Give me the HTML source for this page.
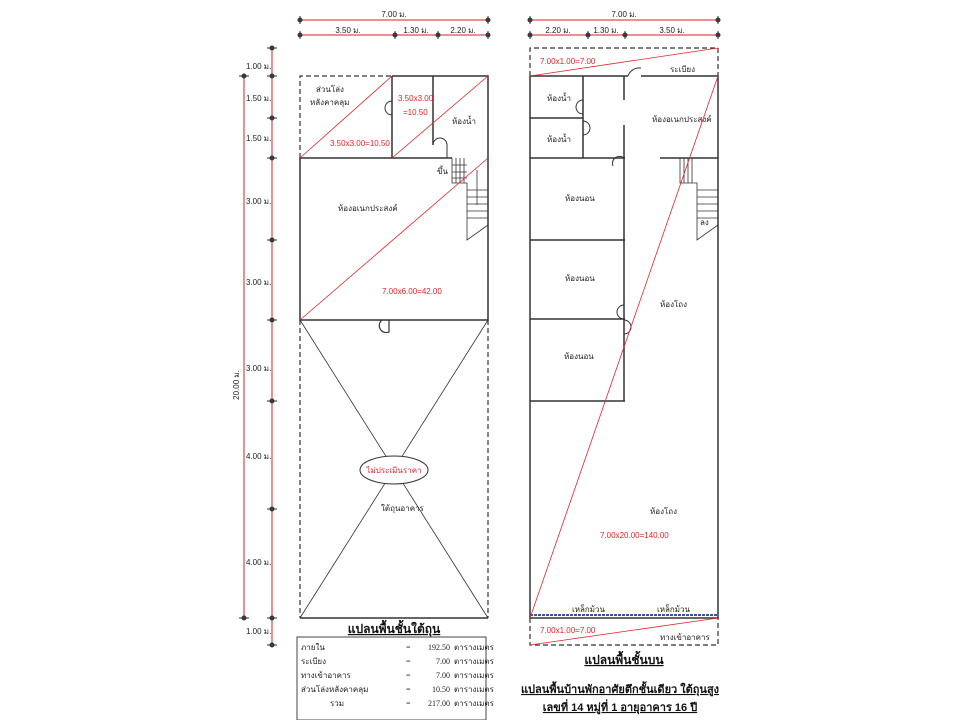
<!DOCTYPE html>
<html><head><meta charset="utf-8"><style>
html,body{margin:0;padding:0;background:#fff;}
svg{display:block;font-family:"Liberation Sans","DejaVu Sans",sans-serif;}
.t{font-size:8px;fill:#222}
.r{font-size:8px;fill:#e8232a}
.d{font-size:8px;fill:#222}
</style></head><body>
<svg width="960" height="720" viewBox="0 0 960 720" xmlns="http://www.w3.org/2000/svg">
<g stroke="#e86a6a" stroke-width="1.5">
<line x1="300" y1="20" x2="488" y2="20"/><line x1="300" y1="35" x2="488" y2="35"/>
<line x1="530" y1="20" x2="718" y2="20"/><line x1="530" y1="35" x2="718" y2="35"/>
<line x1="272" y1="48" x2="272" y2="645"/><line x1="244" y1="76" x2="244" y2="618"/>
</g>
<g fill="#444" stroke="#333" stroke-width="1">
<g id="hdots">
<circle cx="300" cy="20" r="2"/><circle cx="488" cy="20" r="2"/>
<circle cx="300" cy="35" r="2"/><circle cx="395" cy="35" r="2"/><circle cx="438" cy="35" r="2"/><circle cx="488" cy="35" r="2"/>
<circle cx="530" cy="20" r="2"/><circle cx="718" cy="20" r="2"/>
<circle cx="530" cy="35" r="2"/><circle cx="588" cy="35" r="2"/><circle cx="625" cy="35" r="2"/><circle cx="718" cy="35" r="2"/>
</g>
<circle cx="272" cy="48" r="2"/><circle cx="272" cy="76" r="2"/><circle cx="272" cy="118" r="2"/><circle cx="272" cy="158" r="2"/><circle cx="272" cy="240" r="2"/><circle cx="272" cy="320" r="2"/><circle cx="272" cy="401" r="2"/><circle cx="272" cy="509" r="2"/><circle cx="272" cy="618" r="2"/><circle cx="272" cy="645" r="2"/>
<circle cx="244" cy="76" r="2"/><circle cx="244" cy="618" r="2"/>
<path d="M267 48h10M267 76h10M267 118h10M267 158h10M267 240h10M267 320h10M267 401h10M267 509h10M267 618h10M267 645h10M239 76h10M239 618h10"/>
<path d="M300 16v8M488 16v8M300 31v8M395 31v8M438 31v8M488 31v8M530 16v8M718 16v8M530 31v8M588 31v8M625 31v8M718 31v8"/>
</g>
<g class="d">
<text x="394" y="17" class="d" text-anchor="middle">7.00 ม.</text>
<text x="348" y="33" class="d" text-anchor="middle">3.50 ม.</text>
<text x="416" y="33" class="d" text-anchor="middle">1.30 ม.</text>
<text x="463" y="33" class="d" text-anchor="middle">2.20 ม.</text>
<text x="624" y="17" class="d" text-anchor="middle">7.00 ม.</text>
<text x="558" y="33" class="d" text-anchor="middle">2.20 ม.</text>
<text x="606" y="33" class="d" text-anchor="middle">1.30 ม.</text>
<text x="672" y="33" class="d" text-anchor="middle">3.50 ม.</text>
<text x="246" y="69" class="d">1.00 ม.</text>
<text x="246" y="101" class="d">1.50 ม.</text>
<text x="246" y="141" class="d">1.50 ม.</text>
<text x="246" y="204" class="d">3.00 ม.</text>
<text x="246" y="285" class="d">3.00 ม.</text>
<text x="246" y="371" class="d">3.00 ม.</text>
<text x="246" y="459" class="d">4.00 ม.</text>
<text x="246" y="565" class="d">4.00 ม.</text>
<text x="246" y="634" class="d">1.00 ม.</text>
<text x="0" y="0" class="d" transform="translate(239,385) rotate(-90)" text-anchor="middle">20.00 ม.</text>
</g>
<!-- left plan -->
<g stroke="#333" fill="none">
<path d="M300 158 V76 H392" stroke-dasharray="5,3" stroke-width="1.2"/>
<path d="M300 320 V618 M488 320 V618" stroke-dasharray="5,3" stroke-width="1.2"/>
<path d="M392 76 H488 V320 H300 V158 H452" stroke-width="1.5"/>
<path d="M392 76 V158 M433 76 V145" stroke-width="1.5"/>
<path d="M300 618 H488" stroke-width="1.5"/>
<path d="M300 320 L488 618 M488 320 L300 618" stroke-width="0.8"/>
<path d="M392 101 A7 7 0 0 0 392 115 M433 145 A7 7 0 0 1 447 145 V158" stroke-width="1"/>
<path d="M382 320 A7 7 0 0 0 389 332 V320" stroke-width="1.2"/>
<path d="M452 158 V183 H467 V240 L488 225 M452 165 H467 M452 172 H467 M452 178 H467 M456 158 V183 M460 158 V183 M464 158 V183" stroke-width="0.8"/>
<path d="M467 190 H488 M467 197 H488 M467 204 H488 M467 211 H488 M467 218 H488 M477 170 V205" stroke-width="0.8"/>
<ellipse cx="394" cy="470" rx="34" ry="14" fill="#fff" stroke-width="1"/>
</g>
<g stroke="#e8232a" stroke-width="0.8">
<line x1="300" y1="158" x2="392" y2="76"/><line x1="392" y1="158" x2="488" y2="76"/><line x1="300" y1="320" x2="488" y2="158"/>
</g>
<text x="316" y="92" class="t" font-size="7">ส่วนโล่ง</text>
<text x="310" y="105" class="t" font-size="7">หลังคาคลุม</text>
<text x="398" y="101" class="r">3.50x3.00</text>
<text x="403" y="115" class="r">=10.50</text>
<text x="330" y="146" class="r">3.50x3.00=10.50</text>
<text x="452" y="124" class="t" font-size="7">ห้องน้ำ</text>
<text x="437" y="174" class="t" font-size="7">ขึ้น</text>
<text x="338" y="211" class="t" font-size="7">ห้องอเนกประสงค์</text>
<text x="382" y="294" class="r">7.00x6.00=42.00</text>
<text x="394" y="473" class="r" text-anchor="middle" font-size="9">ไม่ประเมินราคา</text>
<text x="381" y="511" class="t" font-size="7">ใต้ถุนอาคาร</text>
<text x="394" y="633" font-size="12" font-weight="bold" text-anchor="middle" text-decoration="underline" fill="#111">แปลนพื้นชั้นใต้ถุน</text>
<rect x="297" y="637" width="189" height="83" fill="none" stroke="#444" stroke-width="1"/>
<g font-family="Liberation Serif,serif" font-size="8" fill="#222">
<text x="301" y="650">ภายใน</text><text x="406" y="650">=</text><text x="450" y="650" text-anchor="end">192.50</text><text x="454" y="650">ตารางเมตร</text>
<text x="301" y="664">ระเบียง</text><text x="406" y="664">=</text><text x="450" y="664" text-anchor="end">7.00</text><text x="454" y="664">ตารางเมตร</text>
<text x="301" y="678">ทางเข้าอาคาร</text><text x="406" y="678">=</text><text x="450" y="678" text-anchor="end">7.00</text><text x="454" y="678">ตารางเมตร</text>
<text x="301" y="692">ส่วนโล่งหลังคาคลุม</text><text x="406" y="692">=</text><text x="450" y="692" text-anchor="end">10.50</text><text x="454" y="692">ตารางเมตร</text>
<text x="330" y="706">รวม</text><text x="406" y="706">=</text><text x="450" y="706" text-anchor="end">217.00</text><text x="454" y="706">ตารางเมตร</text>
</g>
<!-- right plan -->
<g stroke="#333" fill="none">
<path d="M530 76 V48 H718 V76 M530 618 V645 H718 V618" stroke-dasharray="5,3" stroke-width="1.2"/>
<path d="M530 76 H628 M641 76 H718 V618 H530 V76" stroke-width="1.5"/>
<path d="M530 118 H583 M583 76 V158 M530 158 H625 M660 158 H718 M624 76 V100 M624 125 V401 M530 240 H625 M530 319 H625 M530 401 H625" stroke-width="1.5"/>
<path d="M628 76 A12 12 0 0 1 641 68 M583 100 A7 7 0 0 0 583 114 M583 121 A7 7 0 0 1 583 135 M624 158 A7 7 0 0 0 613 166 M624 305 A7 7 0 0 0 624 319 M624 320 A7 7 0 0 1 624 334" stroke-width="1"/>
<path d="M680 158 V183 H697 V240 L718 225 M697 190 H718 M697 197 H718 M697 204 H718 M697 211 H718 M697 218 H718 M684 158 V183 M688 158 V183 M692 158 V183" stroke-width="0.8"/>
</g>
<line x1="530" y1="615" x2="718" y2="615" stroke="#4050a0" stroke-width="2" stroke-dasharray="3,1"/>
<g stroke="#e8232a" stroke-width="0.8">
<line x1="530" y1="76" x2="718" y2="48"/><line x1="530" y1="618" x2="718" y2="76"/><line x1="530" y1="645" x2="718" y2="618"/>
</g>
<text x="540" y="64" class="r">7.00x1.00=7.00</text>
<text x="670" y="72" class="t" font-size="7">ระเบียง</text>
<text x="547" y="101" class="t" font-size="7">ห้องน้ำ</text>
<text x="547" y="142" class="t" font-size="7">ห้องน้ำ</text>
<text x="652" y="122" class="t" font-size="7">ห้องอเนกประสงค์</text>
<text x="565" y="201" class="t" font-size="7">ห้องนอน</text>
<text x="565" y="281" class="t" font-size="7">ห้องนอน</text>
<text x="564" y="359" class="t" font-size="7">ห้องนอน</text>
<text x="660" y="307" class="t" font-size="7">ห้องโถง</text>
<text x="700" y="225" class="t" font-size="6">ลง</text>
<text x="650" y="514" class="t" font-size="7">ห้องโถง</text>
<text x="600" y="538" class="r">7.00x20.00=140.00</text>
<text x="572" y="612" class="t" font-size="7">เหล็กม้วน</text>
<text x="657" y="612" class="t" font-size="7">เหล็กม้วน</text>
<text x="540" y="633" class="r">7.00x1.00=7.00</text>
<text x="660" y="640" class="t" font-size="7">ทางเข้าอาคาร</text>
<text x="624" y="664" font-size="12" font-weight="bold" text-anchor="middle" text-decoration="underline" fill="#111">แปลนพื้นชั้นบน</text>
<text x="620" y="693" font-size="11" font-weight="bold" text-anchor="middle" text-decoration="underline" fill="#111">แปลนพื้นบ้านพักอาศัยตึกชั้นเดียว ใต้ถุนสูง</text>
<text x="620" y="711" font-size="11" font-weight="bold" text-anchor="middle" text-decoration="underline" fill="#111">เลขที่ 14 หมู่ที่ 1 อายุอาคาร 16 ปี</text>
</svg>
</body></html>
